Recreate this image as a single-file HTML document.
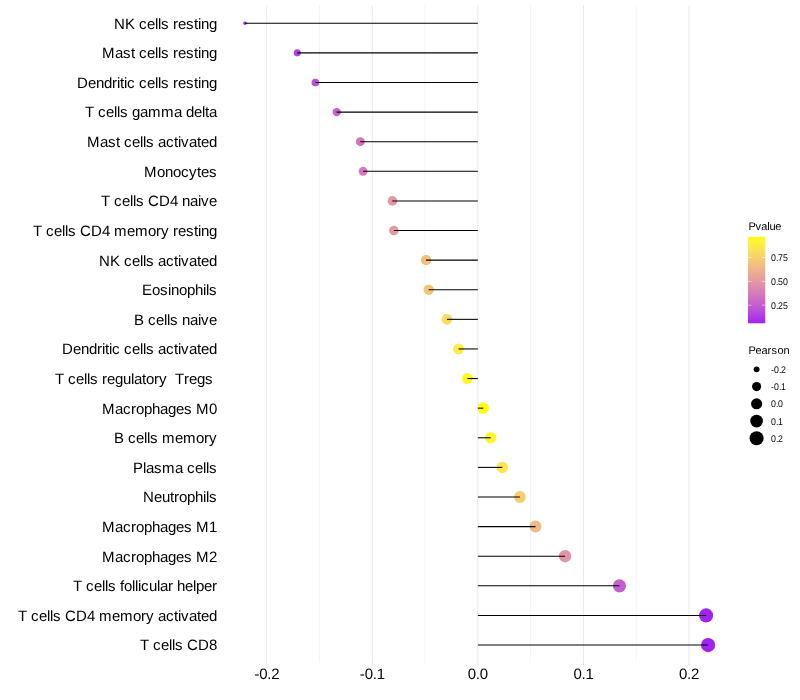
<!DOCTYPE html>
<html><head><meta charset="utf-8"><title>Lollipop</title>
<style>
html,body{margin:0;padding:0;background:#fff}
svg{display:block}
text{font-family:"Liberation Sans",sans-serif;fill:#000;white-space:pre;text-rendering:geometricPrecision}
.ax{font-size:15px}
.lt{font-size:11px}
.ll{font-size:8.8px}
</style></head><body>
<svg width="800" height="700" viewBox="0 0 800 700">
<rect width="800" height="700" fill="#fff"/>
<g stroke="#ebebeb" fill="none">
<line x1="266.69" y1="5.5" x2="266.69" y2="662.8" stroke-width="1.07"/>
<line x1="319.48" y1="5.5" x2="319.48" y2="662.8" stroke-width="0.53"/>
<line x1="372.27" y1="5.5" x2="372.27" y2="662.8" stroke-width="1.07"/>
<line x1="425.06" y1="5.5" x2="425.06" y2="662.8" stroke-width="0.53"/>
<line x1="477.85" y1="5.5" x2="477.85" y2="662.8" stroke-width="1.07"/>
<line x1="530.64" y1="5.5" x2="530.64" y2="662.8" stroke-width="0.53"/>
<line x1="583.43" y1="5.5" x2="583.43" y2="662.8" stroke-width="1.07"/>
<line x1="636.22" y1="5.5" x2="636.22" y2="662.8" stroke-width="0.53"/>
<line x1="689.01" y1="5.5" x2="689.01" y2="662.8" stroke-width="1.07"/>
</g>
<g stroke="#dedede" stroke-width="1.07">
<line x1="266.69" y1="662.8" x2="266.69" y2="665.55"/>
<line x1="372.27" y1="662.8" x2="372.27" y2="665.55"/>
<line x1="477.85" y1="662.8" x2="477.85" y2="665.55"/>
<line x1="583.43" y1="662.8" x2="583.43" y2="665.55"/>
<line x1="689.01" y1="662.8" x2="689.01" y2="665.55"/>
</g>
<g>
<circle cx="245.10" cy="23.26" r="1.78" fill="#a020f0"/>
<circle cx="297.25" cy="52.87" r="3.57" fill="#b341e1"/>
<circle cx="315.40" cy="82.48" r="3.85" fill="#bc4ed9"/>
<circle cx="336.70" cy="112.09" r="4.15" fill="#c75fce"/>
<circle cx="360.30" cy="141.70" r="4.44" fill="#d375be"/>
<circle cx="363.10" cy="171.31" r="4.47" fill="#d578bc"/>
<circle cx="392.40" cy="200.91" r="4.79" fill="#e497a3"/>
<circle cx="393.90" cy="230.52" r="4.80" fill="#e499a2"/>
<circle cx="426.10" cy="260.13" r="5.11" fill="#f3c07d"/>
<circle cx="428.70" cy="289.74" r="5.14" fill="#f4c47a"/>
<circle cx="446.90" cy="319.35" r="5.30" fill="#fadc5d"/>
<circle cx="458.60" cy="348.95" r="5.40" fill="#fcec44"/>
<circle cx="467.40" cy="378.56" r="5.47" fill="#fef827"/>
<circle cx="483.30" cy="408.17" r="5.60" fill="#ffff00"/>
<circle cx="490.70" cy="437.78" r="5.66" fill="#fef531"/>
<circle cx="502.30" cy="467.39" r="5.75" fill="#fbe550"/>
<circle cx="519.90" cy="496.99" r="5.89" fill="#f6cd6f"/>
<circle cx="535.50" cy="526.60" r="6.00" fill="#f0b985"/>
<circle cx="565.10" cy="556.21" r="6.21" fill="#e395a5"/>
<circle cx="619.50" cy="585.82" r="6.57" fill="#c65fce"/>
<circle cx="706.10" cy="615.43" r="7.10" fill="#a123ef"/>
<circle cx="708.10" cy="645.04" r="7.11" fill="#a121f0"/>
</g>
<g stroke="#000" stroke-width="1.07">
<line x1="477.85" y1="23.26" x2="245.10" y2="23.26"/>
<line x1="477.85" y1="52.87" x2="297.25" y2="52.87"/>
<line x1="477.85" y1="82.48" x2="315.40" y2="82.48"/>
<line x1="477.85" y1="112.09" x2="336.70" y2="112.09"/>
<line x1="477.85" y1="141.70" x2="360.30" y2="141.70"/>
<line x1="477.85" y1="171.31" x2="363.10" y2="171.31"/>
<line x1="477.85" y1="200.91" x2="392.40" y2="200.91"/>
<line x1="477.85" y1="230.52" x2="393.90" y2="230.52"/>
<line x1="477.85" y1="260.13" x2="426.10" y2="260.13"/>
<line x1="477.85" y1="289.74" x2="428.70" y2="289.74"/>
<line x1="477.85" y1="319.35" x2="446.90" y2="319.35"/>
<line x1="477.85" y1="348.95" x2="458.60" y2="348.95"/>
<line x1="477.85" y1="378.56" x2="467.40" y2="378.56"/>
<line x1="477.85" y1="408.17" x2="483.30" y2="408.17"/>
<line x1="477.85" y1="437.78" x2="490.70" y2="437.78"/>
<line x1="477.85" y1="467.39" x2="502.30" y2="467.39"/>
<line x1="477.85" y1="496.99" x2="519.90" y2="496.99"/>
<line x1="477.85" y1="526.60" x2="535.50" y2="526.60"/>
<line x1="477.85" y1="556.21" x2="565.10" y2="556.21"/>
<line x1="477.85" y1="585.82" x2="619.50" y2="585.82"/>
<line x1="477.85" y1="615.43" x2="706.10" y2="615.43"/>
<line x1="477.85" y1="645.04" x2="708.10" y2="645.04"/>
</g>
<g>
<text class="ax" xml:space="preserve" x="113.95 124.95 134.95 138.95 146.95 154.95 157.95 160.95 168.95 172.95 177.95 185.95 193.95 197.95 200.95 208.95" y="28.63">NK cells resting</text>
<text class="ax" xml:space="preserve" x="101.95 114.95 122.95 130.95 134.95 138.95 146.95 154.95 157.95 160.95 168.95 172.95 177.95 185.95 193.95 197.95 200.95 208.95" y="58.24">Mast cells resting</text>
<text class="ax" xml:space="preserve" x="76.95 87.95 95.95 103.95 111.95 116.95 119.95 123.95 126.95 134.95 138.95 146.95 154.95 157.95 160.95 168.95 172.95 177.95 185.95 193.95 197.95 200.95 208.95" y="87.85">Dendritic cells resting</text>
<text class="ax" xml:space="preserve" x="84.95 93.95 97.95 105.95 113.95 116.95 119.95 127.95 131.95 139.95 147.95 160.95 173.95 181.95 185.95 193.95 201.95 204.95 208.95" y="117.46">T cells gamma delta</text>
<text class="ax" xml:space="preserve" x="86.95 99.95 107.95 115.95 119.95 123.95 131.95 139.95 142.95 145.95 153.95 157.95 165.95 173.95 177.95 180.95 188.95 196.95 200.95 208.95" y="147.07">Mast cells activated</text>
<text class="ax" xml:space="preserve" x="143.95 156.95 164.95 172.95 180.95 188.95 196.95 200.95 208.95" y="176.68">Monocytes</text>
<text class="ax" xml:space="preserve" x="100.95 109.95 113.95 121.95 129.95 132.95 135.95 143.95 147.95 158.95 169.95 177.95 181.95 189.95 197.95 200.95 208.95" y="206.28">T cells CD4 naive</text>
<text class="ax" xml:space="preserve" x="32.95 41.95 45.95 53.95 61.95 64.95 67.95 75.95 79.95 90.95 101.95 109.95 113.95 126.95 134.95 147.95 155.95 160.95 168.95 172.95 177.95 185.95 193.95 197.95 200.95 208.95" y="235.89">T cells CD4 memory resting</text>
<text class="ax" xml:space="preserve" x="98.95 109.95 119.95 123.95 131.95 139.95 142.95 145.95 153.95 157.95 165.95 173.95 177.95 180.95 188.95 196.95 200.95 208.95" y="265.50">NK cells activated</text>
<text class="ax" xml:space="preserve" x="141.95 151.95 159.95 167.95 170.95 178.95 186.95 194.95 202.95 205.95 208.95" y="295.11">Eosinophils</text>
<text class="ax" xml:space="preserve" x="133.95 143.95 147.95 155.95 163.95 166.95 169.95 177.95 181.95 189.95 197.95 200.95 208.95" y="324.72">B cells naive</text>
<text class="ax" xml:space="preserve" x="61.95 72.95 80.95 88.95 96.95 101.95 104.95 108.95 111.95 119.95 123.95 131.95 139.95 142.95 145.95 153.95 157.95 165.95 173.95 177.95 180.95 188.95 196.95 200.95 208.95" y="354.32">Dendritic cells activated</text>
<text class="ax" xml:space="preserve" x="54.95 63.95 67.95 75.95 83.95 86.95 89.95 97.95 101.95 106.95 114.95 122.95 130.95 133.95 141.95 145.95 153.95 158.95 166.95 170.95 174.95 183.95 188.95 196.95 204.95 212.95" y="383.93">T cells regulatory  Tregs </text>
<text class="ax" xml:space="preserve" x="101.95 114.95 122.95 130.95 135.95 143.95 151.95 159.95 167.95 175.95 183.95 191.95 195.95 208.95" y="413.54">Macrophages M0</text>
<text class="ax" xml:space="preserve" x="113.95 123.95 127.95 135.95 143.95 146.95 149.95 157.95 161.95 174.95 182.95 195.95 203.95 208.95" y="443.15">B cells memory</text>
<text class="ax" xml:space="preserve" x="132.95 142.95 145.95 153.95 161.95 174.95 182.95 186.95 194.95 202.95 205.95 208.95" y="472.76">Plasma cells</text>
<text class="ax" xml:space="preserve" x="142.95 153.95 161.95 169.95 173.95 178.95 186.95 194.95 202.95 205.95 208.95" y="502.36">Neutrophils</text>
<text class="ax" xml:space="preserve" x="101.95 114.95 122.95 130.95 135.95 143.95 151.95 159.95 167.95 175.95 183.95 191.95 195.95 208.95" y="531.97">Macrophages M1</text>
<text class="ax" xml:space="preserve" x="101.95 114.95 122.95 130.95 135.95 143.95 151.95 159.95 167.95 175.95 183.95 191.95 195.95 208.95" y="561.58">Macrophages M2</text>
<text class="ax" xml:space="preserve" x="72.95 81.95 85.95 93.95 101.95 104.95 107.95 115.95 119.95 123.95 131.95 134.95 137.95 140.95 148.95 156.95 159.95 167.95 172.95 176.95 184.95 192.95 195.95 203.95 211.95" y="591.19">T cells follicular helper</text>
<text class="ax" xml:space="preserve" x="17.95 26.95 30.95 38.95 46.95 49.95 52.95 60.95 64.95 75.95 86.95 94.95 98.95 111.95 119.95 132.95 140.95 145.95 153.95 157.95 165.95 173.95 177.95 180.95 188.95 196.95 200.95 208.95" y="620.80">T cells CD4 memory activated</text>
<text class="ax" xml:space="preserve" x="139.95 148.95 152.95 160.95 168.95 171.95 174.95 182.95 186.95 197.95 208.95" y="650.41">T cells CD8</text>
</g>
<g>
<text class="ax" xml:space="preserve" x="254.19 259.19 267.19 271.19" y="678.60">-0.2</text>
<text class="ax" xml:space="preserve" x="359.77 364.77 372.77 376.77" y="678.60">-0.1</text>
<text class="ax" xml:space="preserve" x="467.85 475.85 479.85" y="678.60">0.0</text>
<text class="ax" xml:space="preserve" x="573.43 581.43 585.43" y="678.60">0.1</text>
<text class="ax" xml:space="preserve" x="679.01 687.01 691.01" y="678.60">0.2</text>
</g>
<defs><linearGradient id="cb" x1="0" y1="1" x2="0" y2="0">
<stop offset="0.00" stop-color="#a020f0"/>
<stop offset="0.05" stop-color="#aa33e8"/>
<stop offset="0.10" stop-color="#b441e1"/>
<stop offset="0.15" stop-color="#bc4ed9"/>
<stop offset="0.20" stop-color="#c35ad1"/>
<stop offset="0.25" stop-color="#ca66c9"/>
<stop offset="0.30" stop-color="#d171c1"/>
<stop offset="0.35" stop-color="#d67bb9"/>
<stop offset="0.40" stop-color="#dc86b1"/>
<stop offset="0.45" stop-color="#e190a9"/>
<stop offset="0.50" stop-color="#e59ba0"/>
<stop offset="0.55" stop-color="#e9a597"/>
<stop offset="0.60" stop-color="#edaf8e"/>
<stop offset="0.65" stop-color="#f0b984"/>
<stop offset="0.70" stop-color="#f3c37a"/>
<stop offset="0.75" stop-color="#f6cd6f"/>
<stop offset="0.80" stop-color="#f8d763"/>
<stop offset="0.85" stop-color="#fbe156"/>
<stop offset="0.90" stop-color="#fceb46"/>
<stop offset="0.95" stop-color="#fef530"/>
<stop offset="1.00" stop-color="#ffff00"/>
</linearGradient></defs>
<text class="lt" xml:space="preserve" x="748.55 755.55 761.20 767.20 769.60 775.20" y="230.00">Pvalue</text>
<rect x="748.0" y="236.9" width="17.28" height="86.40" fill="url(#cb)"/>
<g stroke="#fff" stroke-width="0.55">
<line x1="748.0" y1="257.55" x2="751.46" y2="257.55"/><line x1="761.82" y1="257.55" x2="765.28" y2="257.55"/>
<line x1="748.0" y1="281.35" x2="751.46" y2="281.35"/><line x1="761.82" y1="281.35" x2="765.28" y2="281.35"/>
<line x1="748.0" y1="305.15" x2="751.46" y2="305.15"/><line x1="761.82" y1="305.15" x2="765.28" y2="305.15"/>
</g>
<g>
<text class="ll" xml:space="preserve" transform="translate(0 260.95) scale(1 1.11)" x="771.00 776.00 778.00 783.00" y="0">0.75</text>
<text class="ll" xml:space="preserve" transform="translate(0 284.75) scale(1 1.11)" x="771.00 776.00 778.00 783.00" y="0">0.50</text>
<text class="ll" xml:space="preserve" transform="translate(0 308.55) scale(1 1.11)" x="771.00 776.00 778.00 783.00" y="0">0.25</text>
</g>
<text class="lt" xml:space="preserve" x="748.60 755.60 761.60 767.60 771.60 777.60 783.60" y="353.60">Pearson</text>
<circle cx="756.6" cy="369.35" r="2.93" fill="#000"/><text class="ll" xml:space="preserve" transform="translate(0 372.90) scale(1 1.11)" x="771.00 774.00 779.00 781.00" y="0">-0.2</text>
<circle cx="756.6" cy="386.58" r="4.57" fill="#000"/><text class="ll" xml:space="preserve" transform="translate(0 390.13) scale(1 1.11)" x="771.00 774.00 779.00 781.00" y="0">-0.1</text>
<circle cx="756.6" cy="403.81" r="5.56" fill="#000"/><text class="ll" xml:space="preserve" transform="translate(0 407.36) scale(1 1.11)" x="771.00 776.00 778.00" y="0">0.0</text>
<circle cx="756.6" cy="421.04" r="6.34" fill="#000"/><text class="ll" xml:space="preserve" transform="translate(0 424.59) scale(1 1.11)" x="771.00 776.00 778.00" y="0">0.1</text>
<circle cx="756.6" cy="438.27" r="7.00" fill="#000"/><text class="ll" xml:space="preserve" transform="translate(0 441.82) scale(1 1.11)" x="771.00 776.00 778.00" y="0">0.2</text>
</svg>
</body></html>
